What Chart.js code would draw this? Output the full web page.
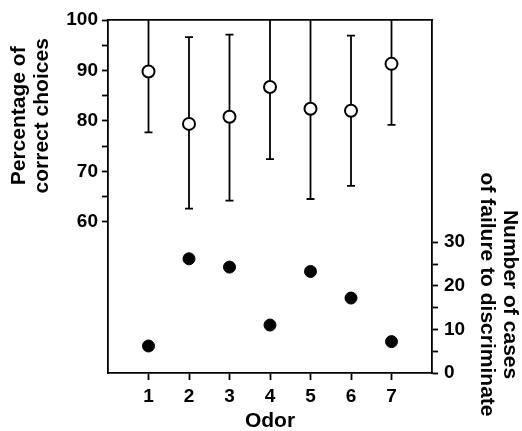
<!DOCTYPE html>
<html>
<head>
<meta charset="utf-8">
<script src="https://cdn.jsdelivr.net/npm/chart.js@4"></script>
<style>
  body { margin: 0; background: #fff; }
  #wrap { width: 522px; height: 431px; }
</style>
</head>
<body>
<div id="wrap"><canvas id="odorChart"></canvas></div>
<script>
// values
const odors = [1, 2, 3, 4, 5, 6, 7];
const pctMean = [89.8, 79.4, 80.8, 86.7, 82.4, 82.0, 91.3];
const pctLow = [77.7, 62.6, 64.2, 72.4, 64.5, 67.1, 79.2];
const pctHigh = [101.9, 96.6, 97.1, 101.0, 100.8, 96.9, 103.4];
const failures = [6.2, 26.2, 24.3, 11.0, 23.3, 17.2, 7.2];

const xTicks = [1, 2, 3, 4, 5, 6, 7];
const pctTicks = [60, 65, 70, 75, 80, 85, 90, 95, 100];
const failTicks = [0, 5, 10, 15, 20, 25, 30];

const FONT = "'Liberation Sans', Arial, Helvetica, sans-serif";
const tickFont = { family: FONT, size: 19, weight: 'bold' };

const errorBars = {
    id: 'errorBars',
    beforeDatasetsDraw(chart) {
        const ctx = chart.ctx, area = chart.chartArea;
        const xs = chart.scales.x, ys = chart.scales.y;
        ctx.save();
        ctx.beginPath();
        ctx.rect(area.left, area.top, area.right - area.left, area.bottom - area.top);
        ctx.clip();
        ctx.strokeStyle = '#000';
        ctx.lineWidth = 1.8;
        odors.forEach((o, i) => {
            const px = xs.getPixelForValue(o);
            const lo = ys.getPixelForValue(pctLow[i]);
            const hi = ys.getPixelForValue(pctHigh[i]);
            ctx.beginPath();
            ctx.moveTo(px, lo); ctx.lineTo(px, hi);
            ctx.moveTo(px - 4, lo); ctx.lineTo(px + 4, lo);
            ctx.moveTo(px - 4, hi); ctx.lineTo(px + 4, hi);
            ctx.stroke();
        });
        ctx.restore();
    }
};

const sideTitles = {
    id: 'sideTitles',
    afterDraw(chart) {
        const ctx = chart.ctx;
        ctx.save();
        ctx.fillStyle = '#000';
        ctx.font = "bold 21px " + FONT;
        ctx.textAlign = 'center';
        ctx.textBaseline = 'middle';
        // left title
        ctx.save();
        ctx.translate(31, chart.scales.y.getPixelForValue(81));
        ctx.rotate(-Math.PI / 2);
        ctx.fillText('Percentage of', 0, -11.5);
        ctx.fillText('correct choices', 0, 11.5);
        ctx.restore();
        // right title
        ctx.save();
        ctx.translate(498, chart.scales.y2.getPixelForValue(18));
        ctx.rotate(Math.PI / 2);
        ctx.fillText('Number of cases', 0, -11.5);
        ctx.fillText('of failure to discriminate', 0, 11.5);
        ctx.restore();
        ctx.restore();
    }
};

function onlyTicks(list) {
    return scale => { scale.ticks = list.map(v => ({ value: v })); };
}
function tensOnly(v) { return v % 10 === 0 ? String(v) : ''; }

new Chart(document.getElementById('odorChart'), {
    type: 'scatter',
    data: {
        datasets: [{
            label: 'correct choices',
            data: odors.map((o, i) => ({ x: o, y: pctMean[i] })),
            yAxisID: 'y',
            pointRadius: 6,
            pointBackgroundColor: '#fff',
            pointBorderColor: '#000',
            pointBorderWidth: 2
        }, {
            label: 'failures',
            data: odors.map((o, i) => ({ x: o, y: failures[i] })),
            yAxisID: 'y2',
            pointRadius: 6,
            pointBackgroundColor: '#000',
            pointBorderColor: '#000',
            pointBorderWidth: 1
        }]
    },
    options: {
        responsive: true,
        maintainAspectRatio: false,
        animation: false,
        layout: { padding: 0 },
        plugins: { legend: { display: false }, tooltip: { enabled: false } },
        scales: {
            x: {
                type: 'linear', position: 'bottom', min: 0, max: 8,
                afterBuildTicks: onlyTicks(xTicks),
                afterFit: s => { s.height = 58; },
                grid: { drawOnChartArea: false, tickLength: 7, tickColor: '#000', tickWidth: 1.8 },
                border: { color: '#000', width: 1.8 },
                ticks: { color: '#000', font: tickFont, padding: 5, maxRotation: 0 },
                title: {
                    display: true, text: 'Odor', color: '#000',
                    font: { family: FONT, size: 21, weight: 'bold' },
                    padding: { top: 0, bottom: -3 }
                }
            },
            x2: {
                type: 'linear', position: 'top', min: 0, max: 8,
                afterFit: s => { s.height = 20; },
                grid: { drawOnChartArea: false, drawTicks: false },
                border: { color: '#000', width: 1.8 },
                ticks: { display: false }
            },
            y: {
                type: 'linear', position: 'left', min: 30, max: 100,
                afterBuildTicks: onlyTicks(pctTicks),
                afterFit: s => { s.width = 108; },
                grid: { drawOnChartArea: false, tickLength: 6, tickColor: '#000', tickWidth: 1.8 },
                border: { color: '#000', width: 1.8 },
                ticks: { color: '#000', font: tickFont, padding: 4, callback: tensOnly }
            },
            y2: {
                type: 'linear', position: 'right', min: 0, max: 81,
                afterBuildTicks: onlyTicks(failTicks),
                afterFit: s => { s.width = 90; },
                grid: { drawOnChartArea: false, tickLength: 6, tickColor: '#000', tickWidth: 1.8 },
                border: { color: '#000', width: 1.8 },
                ticks: { color: '#000', font: tickFont, padding: 6, callback: tensOnly }
            }
        }
    },
    plugins: [errorBars, sideTitles]
});
</script>
</body>
</html>
